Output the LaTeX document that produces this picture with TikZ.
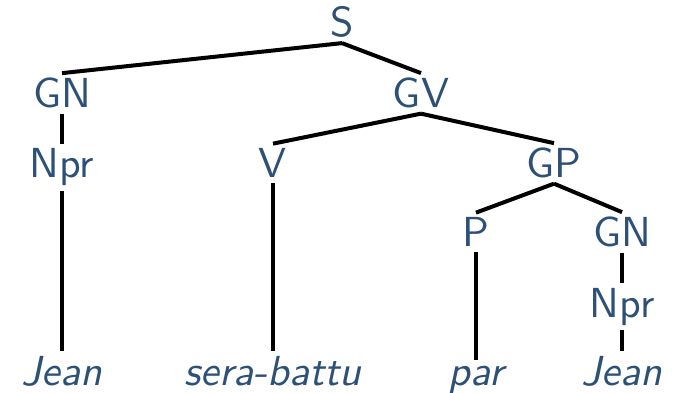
\documentclass[tikz,border=0pt]{standalone}
\usepackage{fontspec}
\setsansfont{lmsans10-regular.otf}[ItalicFont=lmsans10-oblique.otf]
\definecolor{nodeblue}{RGB}{44,80,118}
\begin{document}
\begin{tikzpicture}[x=1pt,y=-1pt,
  lbl/.style={anchor=base, inner sep=5pt, text=nodeblue, font=\fontsize{42}{48}\selectfont\sffamily},
  leaf/.style={lbl, font=\fontsize{42}{48}\selectfont\sffamily\itshape},
  edge/.style={line width=4pt, black}]
\useasboundingbox (0,0) rectangle (673,393);
\node[lbl] (S) at (342,37) {S};
\node[lbl] (GN) at (62,108) {GN};
\node[lbl] (GV) at (421,108) {GV};
\node[lbl] (Npr) at (62,178) {Npr};
\node[lbl] (V) at (273,178) {V};
\node[lbl] (GP) at (554,178) {GP};
\node[lbl] (P) at (476,247) {P};
\node[lbl] (GNb) at (622,247) {GN};
\node[lbl] (Nprb) at (622,317) {Npr};
\node[leaf] (Jean) at (62,385) {Jean};
\node[leaf] (sb) at (273,385) {sera-battu};
\node[leaf] (par) at (476,385) {par};
\node[leaf] (Jeanb) at (622,385) {Jean};
\draw[edge] (S.south) -- (GN.north);
\draw[edge] (S.south) -- (GV.north);
\draw[edge] (GN.south) -- (Npr.north);
\draw[edge] (Npr.south) -- (Jean.north);
\draw[edge] (GV.south) -- (V.north);
\draw[edge] (GV.south) -- (GP.north);
\draw[edge] (V.south) -- (sb.north);
\draw[edge] (GP.south) -- (P.north);
\draw[edge] (GP.south) -- (GNb.north);
\draw[edge] (P.south) -- (par.north);
\draw[edge] (GNb.south) -- (Nprb.north);
\draw[edge] (Nprb.south) -- (Jeanb.north);
\end{tikzpicture}
\end{document}
